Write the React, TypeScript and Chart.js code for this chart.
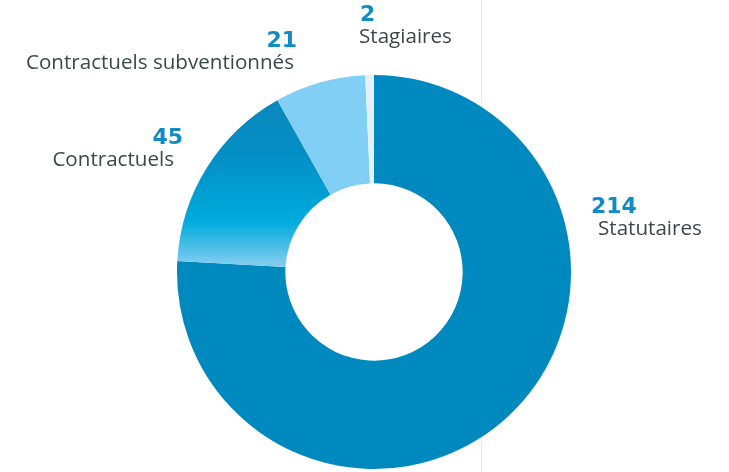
import React, { useEffect, useRef } from "react";
import { Chart, registerables } from "chart.js";

Chart.register(...registerables);

const categories = ["Statutaires", "Contractuels", "Contractuels subventionnés", "Stagiaires"];
const values = [214, 45, 21, 2];

// label anchor offsets relative to chart centre (layout only)
const labelLayout = [
  { dx: 217, dy: -59, align: "left" as CanvasTextAlign, tdx: 7 },
  { dx: -191, dy: -128, align: "right" as CanvasTextAlign, tdx: -9 },
  { dx: -77, dy: -225, align: "right" as CanvasTextAlign, tdx: -3 },
  { dx: -14, dy: -251, align: "left" as CanvasTextAlign, tdx: -1 },
];

const NUM_COLOR = "#118bc3";
const TEXT_COLOR = "#3c4848";

const labelsPlugin = {
  id: "customLabels",
  afterDraw(chart: any) {
    const ctx = chart.ctx as CanvasRenderingContext2D;
    const meta = chart.getDatasetMeta(0);
    const arc = meta.data[0];
    if (!arc) return;
    const cx = arc.x;
    const cy = arc.y;
    ctx.save();
    ctx.textBaseline = "alphabetic";
    categories.forEach((cat, i) => {
      const l = labelLayout[i];
      const x = cx + l.dx;
      const y = cy + l.dy;
      ctx.textAlign = l.align;
      ctx.fillStyle = NUM_COLOR;
      ctx.font = "bold 22px 'DejaVu Sans'";
      ctx.fillText(String(values[i]), x, y);
      ctx.fillStyle = TEXT_COLOR;
      ctx.font = "20.6px 'Open Sans'";
      ctx.fillText(cat, x + l.tdx, y + 22);
    });
    ctx.restore();
  },
};

export default function App() {
  const ref = useRef<HTMLCanvasElement>(null);
  useEffect(() => {
    document.body.style.margin = "0";
    const canvas = ref.current!;
    const chart = new Chart(canvas, {
      type: "doughnut",
      data: {
        labels: categories,
        datasets: [
          {
            data: values,
            borderWidth: 0,
            backgroundColor: (c: any) => {
              const i = c.dataIndex;
              if (i === 0) return "#0089bf";
              if (i === 2) return "#82cff5";
              if (i === 3) return "#e2f1fb";
              const chartObj = c.chart;
              const area = chartObj.chartArea;
              if (!area) return "#00a6da";
              const el = chartObj.getDatasetMeta(0).data[1] as any;
              const r = el && el.outerRadius ? el.outerRadius : (area.bottom - area.top) / 2;
              const cy = el && el.y ? el.y : (area.top + area.bottom) / 2;
              const g = chartObj.ctx.createLinearGradient(0, cy - r * 0.87, 0, cy - r * 0.04);
              g.addColorStop(0, "#0a87bc");
              g.addColorStop(0.35, "#0390c6");
              g.addColorStop(0.74, "#00abdd");
              g.addColorStop(1, "#80ccef");
              return g;
            },
          },
        ],
      },
      options: {
        responsive: false,
        animation: false,
        cutout: "45%",
        layout: { padding: { top: 75, bottom: 3, left: 177, right: 158 } },
        plugins: {
          legend: { display: false },
          tooltip: { enabled: false },
        },
      },
      plugins: [labelsPlugin],
    });
    return () => chart.destroy();
  }, []);

  return (
    <div style={{ position: "relative", width: 729, height: 472, background: "#fff", overflow: "hidden" }}>
      <div style={{ position: "absolute", left: 481, top: 0, width: 1, height: 472, background: "#e3edf4" }} />
      <canvas ref={ref} width={729} height={472} style={{ position: "absolute", left: 0, top: 0 }} />
    </div>
  );
}
